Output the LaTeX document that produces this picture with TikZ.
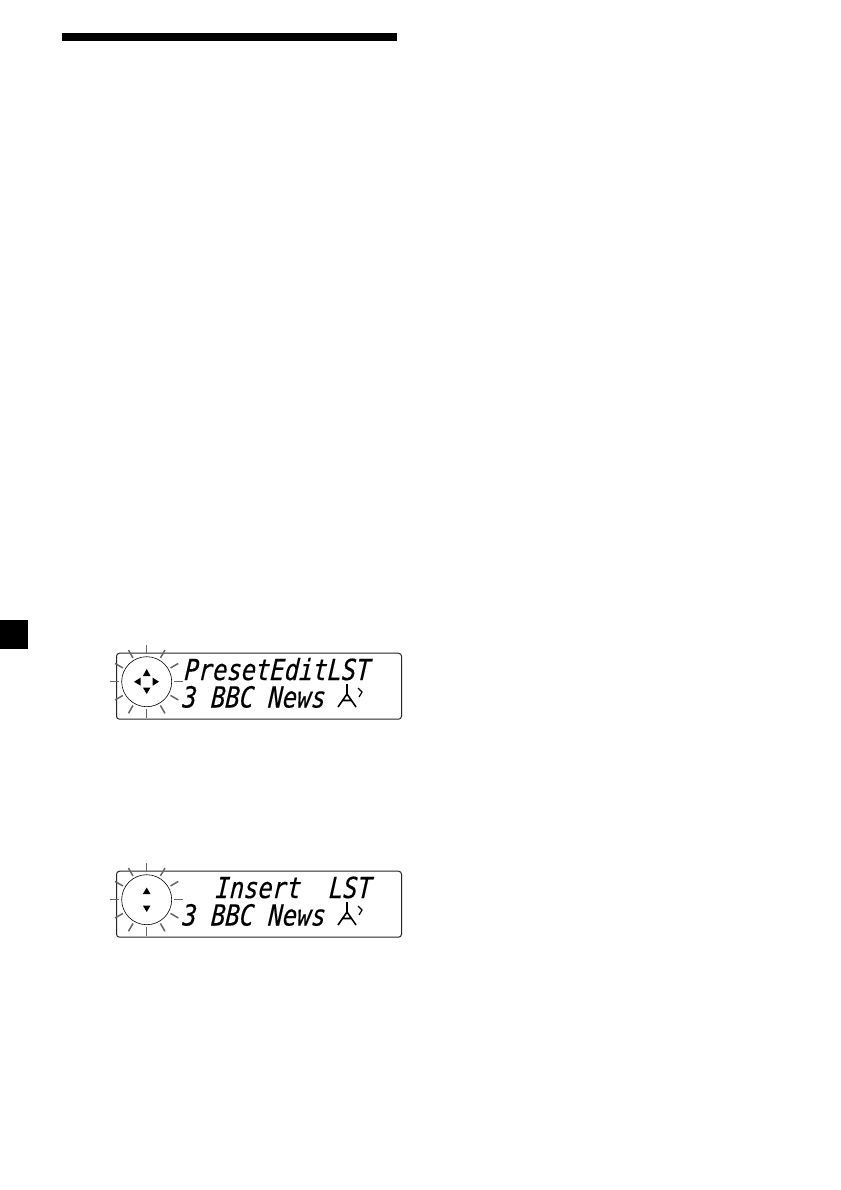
\documentclass[tikz,border=0pt]{standalone}
\usepackage{fontspec}
\newfontfamily\lcd{DejaVu Sans Mono}[ItalicFont={DejaVu Sans Mono Oblique},ItalicFeatures={FakeBold=0.35}]
\usetikzlibrary{calc}
\tikzset{
  display/.style={draw=black!85,line width=1pt,rounded corners=3pt,minimum width=285pt,minimum height=66pt,inner sep=0pt,anchor=north west},
  dial/.style={circle,draw=black,line width=0.6pt,minimum size=50pt,inner sep=0pt},
  ray/.style={draw=black!60,line width=1.5pt},
  tri/.style={fill=black,draw=none},
  lcdtext/.style={anchor=base west,inner sep=0pt,xscale=0.82,xslant=0.08,font=\lcd\itshape\fontsize{29}{29}\selectfont},
  glyph/.style={draw=black,line width=1.6pt}
}
\newcommand{\rays}[1]{%
  \foreach \a in {0,30,...,330}{\draw[ray] ($(#1)+(\a:27.5)$) -- ($(#1)+(\a:36.5)$);}%
}
\begin{document}
\begin{tikzpicture}[x=1pt,y=-1pt]
\useasboundingbox (0,0) rectangle (840,1190);
\fill[white] (0,0) rectangle (840,1190);
\fill[black] (62,33) rectangle (397,41);
\fill[black] (0,620) rectangle (28,649);
% display 1
\node[display] (d1) at (116,652.7) {};
\node[dial] (c1) at (146.7,681.7) {};
\rays{c1}
\fill[tri] (146.7,669) -- (150.5,676) -- (142.9,676) -- cycle;
\fill[tri] (146.7,694) -- (150.5,687.5) -- (142.9,687.5) -- cycle;
\fill[tri] (134,681.7) -- (140.7,677.7) -- (140.7,685.7) -- cycle;
\fill[tri] (159,681.7) -- (152.7,677.7) -- (152.7,685.7) -- cycle;
\node[lcdtext] (t1) at (184,680) {PresetEditLST};
\node[lcdtext] (t2) at (182,707.5) {3 BBC News};
\draw[glyph] (347,684) -- (347,694) (347,694) -- (338,707) (347,694) -- (356,707) (343,700.5) -- (351.5,700.5);
\draw[glyph,line width=1.2pt] (358,688) -- (362,692) -- (359,697);
% display 2
\node[display] (d2) at (116,870.7) {};
\node[dial] (c2) at (146.7,899.7) {};
\rays{c2}
\fill[tri] (146.7,887.5) -- (150.5,894) -- (142.9,894) -- cycle;
\fill[tri] (146.7,912) -- (150.5,905.5) -- (142.9,905.5) -- cycle;
\node[lcdtext] (t3) at (215,898) {Insert};
\node[lcdtext] (t4) at (328.5,898) {LST};
\node[lcdtext] (t5) at (182,925.5) {3 BBC News};
\draw[glyph] (347,902) -- (347,912) (347,912) -- (338,925) (347,912) -- (356,925) (343,918.5) -- (351.5,918.5);
\draw[glyph,line width=1.2pt] (358,906) -- (362,910) -- (359,915);
\end{tikzpicture}
\end{document}
